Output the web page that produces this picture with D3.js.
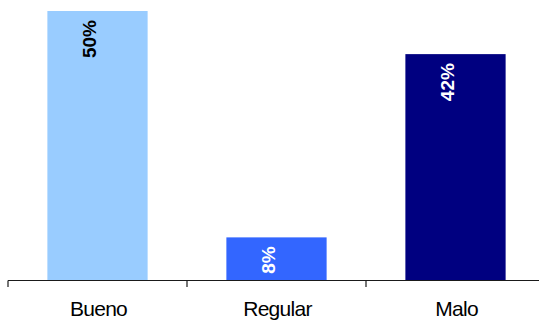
<!DOCTYPE html>
<html>
<head>
<meta charset="utf-8">
<script src="https://cdn.jsdelivr.net/npm/d3@7"></script>
<style>
  html, body { margin: 0; padding: 0; background: #fff; }
  svg { display: block; }
</style>
</head>
<body>
<svg id="chart" width="539" height="322"></svg>
<script>
const categories = ["Bueno", "Regular", "Malo"];
const values = [50, 8, 42];
const valueLabels = ["50%", "8%", "42%"];
const barColors = ["#99CCFF", "#3366FF", "#000080"];
const labelColors = ["#000000", "#ffffff", "#ffffff"];

const svg = d3.select("#chart");
const W = 539, H = 322;
const x0 = 8, step = 179;
const x = d3.scaleBand().domain(categories).range([x0, x0 + step * categories.length]).padding(0);
const y = d3.scaleLinear().domain([0, 50]).range([280.5, 11]);
const barW = x.bandwidth() * 0.56;

svg.selectAll("rect.bar").data(categories).join("rect")
  .attr("class", "bar")
  .attr("x", d => x(d) + (x.bandwidth() - barW) / 2)
  .attr("y", (d, i) => y(values[i]))
  .attr("width", barW)
  .attr("height", (d, i) => y(0) - y(values[i]))
  .attr("fill", (d, i) => barColors[i]);

// axis
const axisG = svg.append("g").attr("transform", `translate(0,${y(0)})`);
axisG.append("line").attr("x1", x0).attr("x2", W).attr("y1", 0).attr("y2", 0)
  .attr("stroke", "#1a1a1a").attr("stroke-width", 1.2);
const tickPos = categories.map(c => x(c)).concat([x.range()[1]]);
axisG.selectAll("line.tick").data(tickPos).join("line").attr("class", "tick")
  .attr("x1", d => d).attr("x2", d => d).attr("y1", 0).attr("y2", 6.5)
  .attr("stroke", "#1a1a1a").attr("stroke-width", 1.2);

svg.selectAll("text.cat").data(categories).join("text").attr("class", "cat")
  .attr("x", d => x(d) + x.bandwidth() / 2 + 1)
  .attr("y", 316)
  .attr("text-anchor", "middle")
  .attr("font-family", "Liberation Sans, Arial, sans-serif")
  .attr("font-size", 21)
  .attr("letter-spacing", -0.7)
  .attr("fill", "#000")
  .text(d => d);

// value labels rotated
svg.selectAll("text.val").data(categories).join("text").attr("class", "val")
  .attr("transform", (d, i) => `translate(${x(d) + x.bandwidth() / 2 - 2},${y(values[i]) + 9}) rotate(-90)`)
  .attr("text-anchor", "end")
  .attr("font-family", "Liberation Sans, Arial, sans-serif")
  .attr("font-weight", "bold")
  .attr("font-size", 19)
  .attr("fill", (d, i) => labelColors[i])
  .text((d, i) => valueLabels[i]);
</script>
</body>
</html>
